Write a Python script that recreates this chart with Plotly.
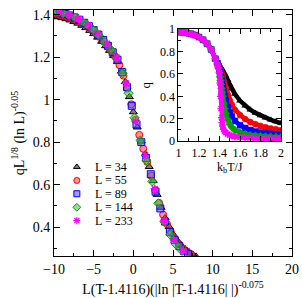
import plotly.graph_objects as go

# ---------------- data ----------------
SIZES = ["34", "55", "89", "144", "233"]
COLORS = ["#000000", "#ff0000", "#0000ff", "#00a000", "#ff00ff"]
FILLS = ["rgba(0,0,0,0.5)", "rgba(255,60,60,0.55)", "rgba(80,80,255,0.55)", "rgba(60,190,60,0.55)", "#ff00ff"]
SYMBOLS = ["triangle-up", "circle", "square", "diamond", "asterisk-open"]

# main panel (scaled data collapse)
x34 = [-10, -9.5, -9, -8.5, -8, -7.5, -7, -6.5, -6, -5.5, -5, -4.5, -4, -3.5, -3, -2.5, -2, -1.5, -1, -0.5,
       0, 0.5, 1, 1.5, 2, 2.5, 3, 3.5, 4, 4.5, 5, 5.5, 6, 6.5, 7, 7.5, 7.9]
y34 = [1.392, 1.389, 1.385, 1.380, 1.374, 1.367, 1.359, 1.349, 1.338, 1.325, 1.310, 1.293, 1.274, 1.253, 1.231,
       1.207, 1.178, 1.133, 1.084, 1.013, 0.942, 0.870, 0.804, 0.744, 0.684, 0.618, 0.553, 0.492, 0.443, 0.402,
       0.367, 0.339, 0.316, 0.298, 0.283, 0.271, 0.262]

x55 = [-9.75, -9.25, -8.75, -8.25, -7.75, -7.25, -6.75, -6.25, -5.75, -5.25, -4.75, -4.25, -3.75, -3.25, -2.75,
       -2.25, -1.75, -1.25, -0.75, -0.25, 0.25, 0.75, 1.25, 1.75, 2.25, 2.75, 3.25, 3.75, 4.25, 4.75, 5.25, 5.75,
       6.25, 6.75, 7.25]
y55 = [1.404, 1.399, 1.394, 1.388, 1.382, 1.375, 1.366, 1.355, 1.343, 1.329, 1.313, 1.295, 1.274, 1.253, 1.229,
       1.202, 1.163, 1.113, 1.052, 0.978, 0.905, 0.834, 0.769, 0.707, 0.642, 0.574, 0.514, 0.459, 0.414, 0.375,
       0.345, 0.320, 0.300, 0.285, 0.273]

x89 = [-9.8, -9.2, -8.6, -8.0, -7.4, -6.8, -6.2, -5.6, -5.0, -4.4, -3.8, -3.2, -2.6, -2.0, -1.4, -0.8, -0.2, 0.4,
       1.0, 1.6, 2.2, 2.8, 3.4, 4.0, 4.6, 5.2, 5.8, 6.4, 6.9]
y89 = [1.416, 1.410, 1.403, 1.396, 1.387, 1.376, 1.362, 1.346, 1.327, 1.305, 1.281, 1.253, 1.223, 1.188, 1.130,
       1.059, 0.971, 0.883, 0.800, 0.726, 0.649, 0.567, 0.488, 0.426, 0.378, 0.339, 0.310, 0.287, 0.274]

x144 = [-9.6, -8.85, -8.1, -7.35, -6.6, -5.85, -5.1, -4.35, -3.6, -2.85, -2.1, -1.35, -0.6, 0.15, 0.9, 1.65,
        2.4, 3.15, 3.9, 4.65, 5.4, 6.15]
y144 = [1.415, 1.406, 1.397, 1.386, 1.371, 1.353, 1.330, 1.303, 1.271, 1.236, 1.194, 1.124, 1.030, 0.915, 0.808,
        0.715, 0.615, 0.512, 0.425, 0.365, 0.318, 0.288]

x233 = [-9.3, -8.1, -6.9, -5.7, -4.5, -3.3, -2.1, -0.9, 0.3, 1.5, 2.7, 3.9, 5.1, 6.3]
y233 = [1.414, 1.400, 1.381, 1.352, 1.313, 1.263, 1.197, 1.076, 0.898, 0.738, 0.580, 0.430, 0.340, 0.290]

MAIN_X = [x34, x55, x89, x144, x233]
MAIN_Y = [y34, y55, y89, y144, y233]

# inset: order parameter q vs k_bT/J
T_IN = [1.0, 1.04, 1.08, 1.12, 1.16, 1.2, 1.24, 1.28, 1.32, 1.36, 1.38, 1.39, 1.40, 1.405, 1.41, 1.415, 1.42,
        1.425, 1.43, 1.44, 1.45, 1.46, 1.48, 1.5, 1.52, 1.55, 1.6, 1.65, 1.7, 1.75, 1.8, 1.85, 1.9, 1.95, 2.0]
q34 = [0.975, 0.972, 0.967, 0.959, 0.947, 0.930, 0.905, 0.870, 0.818, 0.735, 0.705, 0.690, 0.677, 0.670, 0.662,
       0.655, 0.647, 0.640, 0.632, 0.617, 0.600, 0.583, 0.545, 0.505, 0.468, 0.420, 0.360, 0.315, 0.280, 0.252,
       0.228, 0.208, 0.190, 0.175, 0.160]
q55 = [0.975, 0.972, 0.967, 0.959, 0.947, 0.930, 0.905, 0.870, 0.818, 0.735, 0.700, 0.680, 0.660, 0.647, 0.633,
       0.618, 0.603, 0.588, 0.573, 0.540, 0.505, 0.470, 0.410, 0.362, 0.325, 0.280, 0.232, 0.197, 0.171, 0.151,
       0.136, 0.123, 0.113, 0.105, 0.098]
q89 = [0.975, 0.972, 0.967, 0.959, 0.947, 0.930, 0.905, 0.870, 0.818, 0.735, 0.695, 0.670, 0.640, 0.615, 0.590,
       0.565, 0.540, 0.515, 0.490, 0.445, 0.400, 0.362, 0.300, 0.255, 0.220, 0.180, 0.142, 0.117, 0.099, 0.087,
       0.078, 0.071, 0.066, 0.062, 0.058]
q144 = [0.975, 0.972, 0.967, 0.959, 0.947, 0.930, 0.905, 0.870, 0.818, 0.735, 0.690, 0.655, 0.610, 0.575, 0.540,
        0.505, 0.470, 0.435, 0.400, 0.340, 0.290, 0.248, 0.190, 0.150, 0.123, 0.098, 0.076, 0.063, 0.054, 0.048,
        0.044, 0.041, 0.039, 0.037, 0.035]
q233 = [0.975, 0.972, 0.967, 0.959, 0.947, 0.930, 0.905, 0.870, 0.818, 0.735, 0.680, 0.655, 0.610, 0.520, 0.400,
        0.290, 0.210, 0.165, 0.135, 0.105, 0.088, 0.077, 0.062, 0.053, 0.047, 0.041, 0.035, 0.031, 0.028, 0.025,
        0.023, 0.021, 0.020, 0.019, 0.018]
INSET_Q = [q34, q55, q89, q144, q233]

# ---------------- figure ----------------
FONT = "Liberation Serif"
fig = go.Figure()

for i in range(5):
    open_sym = SYMBOLS[i].endswith("open")
    fig.add_trace(go.Scatter(
        x=MAIN_X[i], y=MAIN_Y[i], mode="markers", showlegend=False, cliponaxis=True,
        marker=dict(symbol=SYMBOLS[i], size=7,
                    color=COLORS[i] if open_sym else FILLS[i],
                    line=dict(color=COLORS[i], width=1.3 if open_sym else 1)),
        xaxis="x", yaxis="y"))

for i in range(5):
    open_sym = SYMBOLS[i].endswith("open")
    fig.add_trace(go.Scatter(
        x=T_IN, y=INSET_Q[i], mode="lines+markers", showlegend=False,
        line=dict(color=COLORS[i], width=4.5),
        marker=dict(symbol=SYMBOLS[i], size=6,
                    color=COLORS[i],
                    line=dict(color=COLORS[i], width=1.4 if open_sym else 0.5)),
        xaxis="x2", yaxis="y2"))

# custom legend (symbol column + labels) on an overlay axis spanning the plot area
LEG_X = [0.096] * 5
LEG_Y = [0.362, 0.307, 0.253, 0.198, 0.144]
for i in range(5):
    open_sym = SYMBOLS[i].endswith("open")
    fig.add_trace(go.Scatter(
        x=[LEG_X[i]], y=[LEG_Y[i]], mode="markers", showlegend=False,
        marker=dict(symbol=SYMBOLS[i], size=6,
                    color=COLORS[i] if open_sym else FILLS[i],
                    line=dict(color=COLORS[i], width=1.2 if open_sym else 1)),
        xaxis="x3", yaxis="y3"))
    fig.add_annotation(x=0.163, y=LEG_Y[i], xref="x3", yref="y3", text="L = " + SIZES[i],
                       showarrow=False, xanchor="left", yanchor="middle",
                       font=dict(family=FONT, size=12, color="black"))

axis_common = dict(showgrid=False, zeroline=False, showline=True, linecolor="black", linewidth=1,
                   mirror="allticks", ticks="inside", tickcolor="black", tickwidth=1)

fig.update_layout(
    width=302, height=298,
    margin=dict(l=54, r=9, t=3, b=38),
    paper_bgcolor="white", plot_bgcolor="white",
    font=dict(family=FONT, size=14, color="black"),
    showlegend=False,
    xaxis=dict(range=[-10, 20], dtick=5, tick0=0, ticklen=6,
               minor=dict(ticks="inside", dtick=2.5, ticklen=3, tickcolor="black"),
               tickfont=dict(size=14),
               title=dict(text="L(T-1.4116)(|ln |T-1.4116| |)<sup>-0.075</sup>", font=dict(size=14), standoff=8),
               **axis_common),
    yaxis=dict(range=[0.264, 1.422], dtick=0.2, tick0=0, ticklen=6,
               minor=dict(ticks="inside", dtick=0.1, ticklen=3, tickcolor="black"),
               tickfont=dict(size=14),
               title=dict(text="qL<sup>1/8</sup> (ln L)<sup>-0.05</sup>", font=dict(size=14), standoff=4),
               **axis_common),
    xaxis2=dict(domain=[0.523, 0.954], anchor="y2", range=[1, 2], dtick=0.2, tick0=0, ticklen=5,
                minor=dict(ticks="inside", dtick=0.1, ticklen=3, tickcolor="black"),
                tickfont=dict(size=12),
                title=dict(text="k<sub>b</sub>T/J", font=dict(size=12), standoff=0),
                **axis_common),
    yaxis2=dict(domain=[0.467, 0.922], anchor="x2", range=[0, 1], dtick=0.2, tick0=0, ticklen=5,
                minor=dict(ticks="inside", dtick=0.1, ticklen=3, tickcolor="black"),
                tickfont=dict(size=12),
                title=dict(text="q", font=dict(size=13), standoff=6),
                **axis_common),
    xaxis3=dict(domain=[0, 1], anchor="y3", range=[0, 1], visible=False, overlaying="x"),
    yaxis3=dict(domain=[0, 1], anchor="x3", range=[0, 1], visible=False, overlaying="y"),
)

fig.write_html("out.html", config={"displayModeBar": False},
               post_script="document.body.style.margin='0';document.body.style.padding='0';"
                           "document.body.style.overflow='hidden';")
